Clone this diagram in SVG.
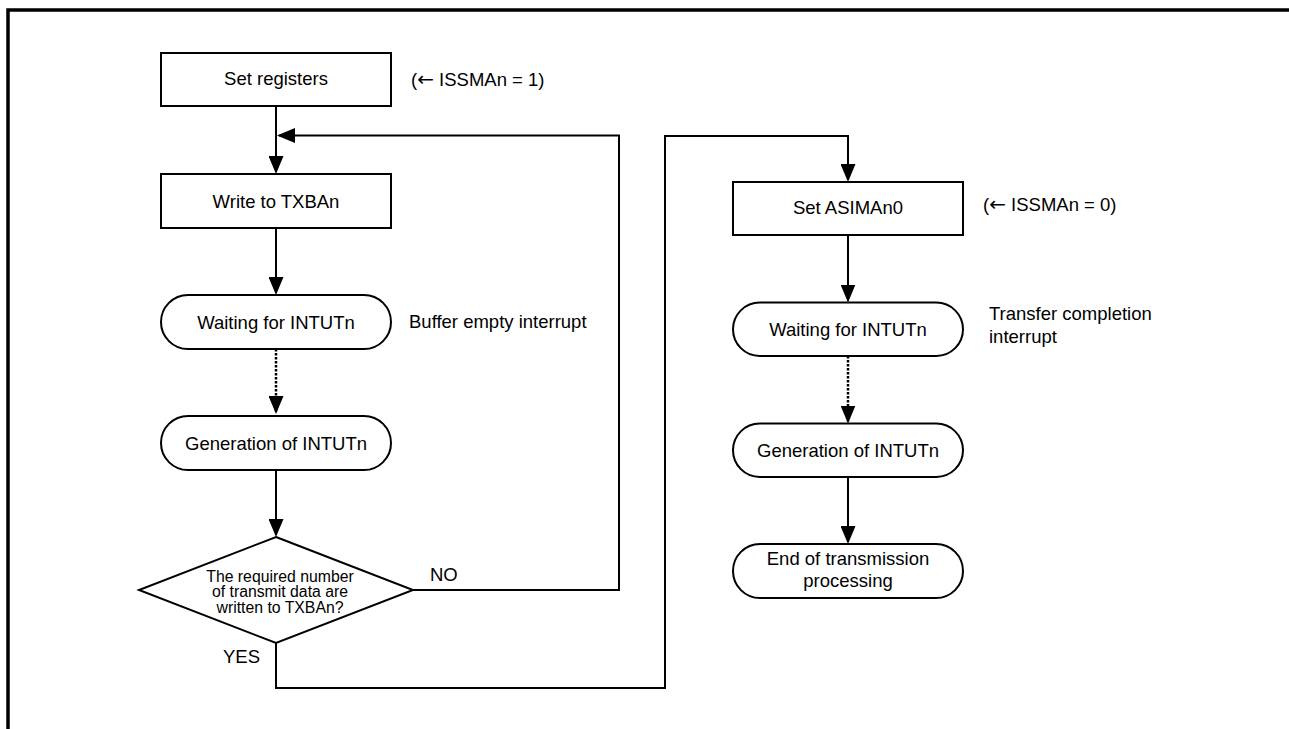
<svg xmlns="http://www.w3.org/2000/svg" width="1289" height="729" viewBox="0 0 1289 729">
<style>
.box{fill:#fff;stroke:#000;stroke-width:2}
.ln{fill:none;stroke:#000;stroke-width:2}
.dot{fill:none;stroke:#000;stroke-width:2.5;stroke-dasharray:2.5 1.5}
.t{font-family:"Liberation Sans",Arial,sans-serif;font-size:18.5px;fill:#000}
.c{text-anchor:middle}
.s{font-size:15.8px}
.ar{font-family:"DejaVu Sans",sans-serif;font-size:20px}
</style>
<defs>
<marker id="arr" viewBox="0 0 18 15" refX="16" refY="7.5" markerWidth="18" markerHeight="15" orient="auto" markerUnits="userSpaceOnUse">
<path d="M0,0 L18,7.5 L0,15 z" fill="#000"/>
</marker>
</defs>
<g id="frame">
<path d="M8,729 V10 H1289" fill="none" stroke="#000" stroke-width="3.5"/>
</g>
<g id="connectors">
<path class="ln" d="M276,106 V172" marker-end="url(#arr)"/>
<path class="ln" d="M276,228 V293" marker-end="url(#arr)"/>
<path class="dot" d="M276,349 V412" marker-end="url(#arr)"/>
<path class="ln" d="M276,470 V535" marker-end="url(#arr)"/>
<path class="ln" d="M413,590 H619 V135.5 H279" marker-end="url(#arr)"/>
<path class="ln" d="M276,643 V688 H665 V136 H848 V180" marker-end="url(#arr)"/>
<path class="ln" d="M848,235 V300.5" marker-end="url(#arr)"/>
<path class="dot" d="M848,356 V421.5" marker-end="url(#arr)"/>
<path class="ln" d="M848,477 V542" marker-end="url(#arr)"/>
<text class="t" x="430" y="581">NO</text>
<text class="t" x="223" y="663">YES</text>
</g>
<g id="set-registers">
<rect class="box" x="161" y="53" width="230" height="53"/>
<text class="t c" x="276" y="85">Set registers</text>
<text class="t" x="411" y="86">(<tspan class="ar">←</tspan> ISSMAn = 1)</text>
</g>
<g id="write-txban">
<rect class="box" x="161" y="174" width="230" height="54"/>
<text class="t c" x="276" y="208">Write to TXBAn</text>
</g>
<g id="waiting-1">
<rect class="box" x="161" y="295" width="230" height="54" rx="27" ry="27"/>
<text class="t c" x="276" y="328.5">Waiting for INTUTn</text>
<text class="t" x="409" y="328">Buffer empty interrupt</text>
</g>
<g id="generation-1">
<rect class="box" x="161" y="416" width="230" height="54" rx="27" ry="27"/>
<text class="t c" x="276" y="449.5">Generation of INTUTn</text>
</g>
<g id="decision">
<polygon class="box" points="276,537 413,590 276,643 139,590"/>
<text class="t s c" x="280" y="581.5">The required number</text>
<text class="t s c" x="280" y="597.3">of transmit data are</text>
<text class="t s c" x="280" y="612.8">written to TXBAn?</text>
</g>
<g id="set-asiman0">
<rect class="box" x="733" y="182" width="230" height="53"/>
<text class="t c" x="848" y="214">Set ASIMAn0</text>
<text class="t" x="983" y="211">(<tspan class="ar">←</tspan> ISSMAn = 0)</text>
</g>
<g id="waiting-2">
<rect class="box" x="733" y="302.5" width="230" height="53.5" rx="26.75" ry="26.75"/>
<text class="t c" x="848" y="335.5">Waiting for INTUTn</text>
<text class="t" x="989" y="320">Transfer completion</text>
<text class="t" x="989" y="342.7">interrupt</text>
</g>
<g id="generation-2">
<rect class="box" x="733" y="423.5" width="230" height="53.5" rx="26.75" ry="26.75"/>
<text class="t c" x="848" y="456.5">Generation of INTUTn</text>
</g>
<g id="end">
<rect class="box" x="733" y="544" width="230" height="54" rx="27" ry="27"/>
<text class="t c" x="848" y="565">End of transmission</text>
<text class="t c" x="848" y="587">processing</text>
</g>
</svg>
